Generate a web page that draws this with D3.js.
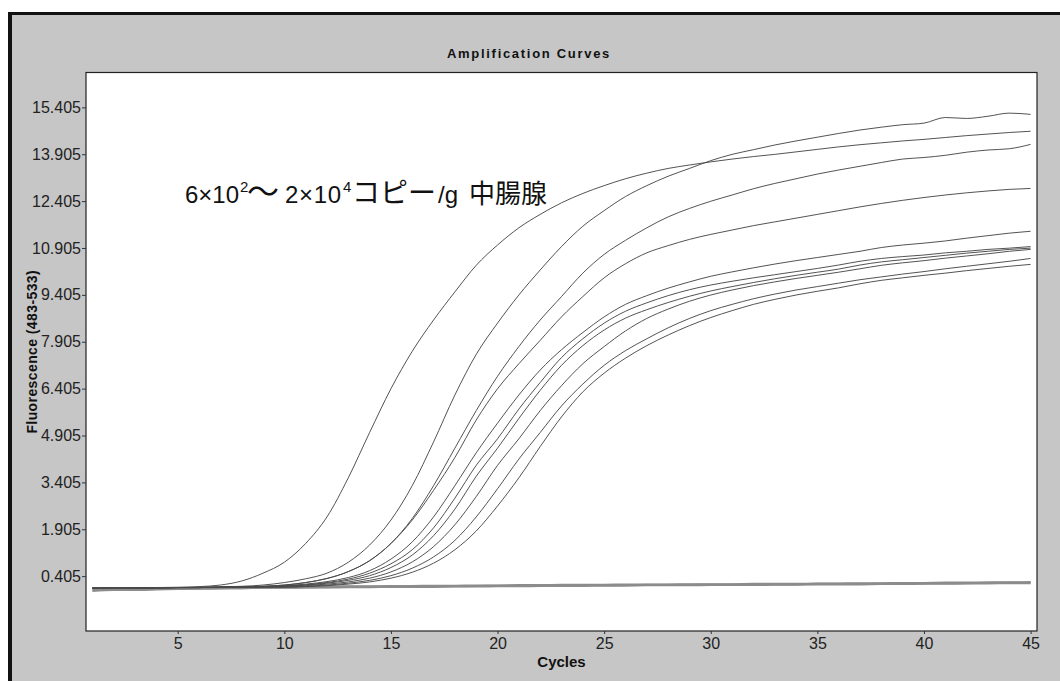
<!DOCTYPE html>
<html>
<head>
<meta charset="utf-8">
<script src="https://cdn.jsdelivr.net/npm/d3@7"></script>
<style>
  html, body { margin: 0; padding: 0; background: #fff; }
  svg { display: block; }
</style>
</head>
<body>
<svg id="chart" width="1060" height="681"></svg>
<script>
// ---------- DATA ----------
const cycles = d3.range(1, 46);
const xTicks = [5, 10, 15, 20, 25, 30, 35, 40, 45];
const yTicks = [0.405, 1.905, 3.405, 4.905, 6.405, 7.905, 9.405, 10.905, 12.405, 13.905, 15.405];
const titleText = "Amplification Curves";
const xLabel = "Cycles";
const yLabel = "Fluorescence (483-533)";

const curveA = [0.02,0.02,0.03,0.04,0.05,0.07,0.12,0.25,0.5,0.85,1.45,2.3,3.55,5.0,6.4,7.6,8.6,9.5,10.35,11.0,11.55,11.98,12.35,12.65,12.9,13.12,13.3,13.45,13.56,13.66,13.75,13.83,13.9,13.98,14.06,14.14,14.21,14.27,14.33,14.38,14.44,14.5,14.55,14.6,14.64];
const curveB = [0.02,0.02,0.03,0.03,0.04,0.05,0.06,0.08,0.12,0.2,0.32,0.5,0.85,1.4,2.2,3.3,4.7,6.2,7.5,8.5,9.4,10.2,10.95,11.6,12.1,12.55,12.9,13.2,13.45,13.7,13.9,14.05,14.2,14.33,14.45,14.57,14.68,14.77,14.85,14.9,15.08,15.05,15.12,15.22,15.18];
const curveC = [0.02,0.02,0.03,0.03,0.04,0.04,0.05,0.06,0.08,0.12,0.2,0.33,0.55,0.9,1.45,2.25,3.3,4.5,5.7,6.8,7.75,8.6,9.35,10.1,10.7,11.15,11.55,11.9,12.17,12.4,12.6,12.8,12.97,13.12,13.27,13.4,13.52,13.64,13.75,13.8,13.87,13.97,14.04,14.08,14.22];
const curveD = [0.02,0.02,0.03,0.03,0.04,0.04,0.05,0.06,0.08,0.12,0.2,0.33,0.55,0.9,1.45,2.2,3.15,4.2,5.4,6.4,7.2,7.95,8.7,9.35,9.95,10.4,10.75,10.98,11.18,11.34,11.48,11.62,11.74,11.86,11.98,12.1,12.22,12.33,12.43,12.52,12.6,12.67,12.73,12.78,12.81];
const curveE = [0.02,0.02,0.03,0.03,0.04,0.04,0.05,0.06,0.07,0.1,0.15,0.23,0.36,0.58,0.95,1.5,2.3,3.3,4.35,5.3,6.2,7.0,7.65,8.2,8.7,9.1,9.38,9.62,9.82,10.0,10.14,10.27,10.39,10.5,10.6,10.7,10.8,10.92,11.0,11.06,11.13,11.22,11.3,11.38,11.44];
const curveF = [0.02,0.02,0.03,0.03,0.04,0.04,0.05,0.06,0.07,0.09,0.13,0.2,0.31,0.5,0.8,1.25,1.95,2.9,3.95,4.8,5.75,6.6,7.4,8.0,8.5,8.88,9.15,9.38,9.57,9.72,9.84,9.95,10.05,10.15,10.25,10.36,10.48,10.57,10.63,10.68,10.75,10.8,10.86,10.9,10.95];
const curveG = [0.02,0.02,0.03,0.03,0.04,0.04,0.05,0.06,0.07,0.08,0.12,0.18,0.27,0.42,0.68,1.08,1.7,2.55,3.6,4.5,5.45,6.35,7.15,7.78,8.28,8.66,8.93,9.16,9.36,9.53,9.67,9.8,9.92,10.03,10.13,10.23,10.36,10.46,10.53,10.6,10.67,10.74,10.8,10.86,10.9];
const curveH = [0.02,0.02,0.03,0.03,0.04,0.04,0.05,0.05,0.06,0.07,0.1,0.15,0.22,0.34,0.54,0.86,1.35,2.05,2.95,3.95,4.8,5.7,6.5,7.2,7.75,8.25,8.65,8.95,9.2,9.4,9.56,9.7,9.82,9.93,10.03,10.13,10.24,10.35,10.43,10.5,10.58,10.65,10.72,10.8,10.86];
const curveI = [0.02,0.02,0.03,0.03,0.04,0.04,0.05,0.05,0.06,0.06,0.08,0.12,0.18,0.27,0.42,0.66,1.02,1.55,2.3,3.2,4.15,5.0,5.85,6.55,7.15,7.62,8.0,8.35,8.65,8.9,9.1,9.28,9.43,9.56,9.67,9.78,9.89,9.98,10.07,10.15,10.24,10.32,10.4,10.48,10.57];
const curveJ = [0.02,0.02,0.03,0.03,0.04,0.04,0.04,0.05,0.05,0.05,0.07,0.1,0.15,0.22,0.34,0.53,0.82,1.25,1.85,2.65,3.55,4.55,5.5,6.3,6.9,7.38,7.78,8.12,8.42,8.68,8.9,9.1,9.26,9.4,9.52,9.63,9.76,9.87,9.95,10.03,10.1,10.18,10.25,10.32,10.38];
const negative1 = [-0.06,-0.03,-0.03,-0.01,0.0,0.01,0.02,0.03,0.04,0.05,0.05,0.06,0.07,0.07,0.08,0.08,0.09,0.09,0.1,0.1,0.11,0.11,0.12,0.12,0.12,0.13,0.13,0.13,0.14,0.14,0.14,0.15,0.15,0.15,0.16,0.16,0.17,0.17,0.18,0.18,0.19,0.19,0.2,0.2,0.21];
const negative2 = [-0.02,-0.01,-0.02,0.0,0.01,0.02,0.03,0.03,0.04,0.04,0.05,0.05,0.06,0.06,0.07,0.07,0.07,0.08,0.08,0.09,0.09,0.1,0.1,0.1,0.11,0.11,0.12,0.12,0.12,0.13,0.13,0.13,0.14,0.14,0.15,0.15,0.15,0.16,0.16,0.17,0.17,0.18,0.18,0.19,0.19];

const positives = [curveA, curveB, curveC, curveD, curveE, curveF, curveG, curveH, curveI, curveJ];
const negatives = [negative1, negative2];

// ---------- LAYOUT ----------
const svg = d3.select("#chart");
const W = 1060, H = 681;
const plot = { left: 86, top: 72.5, right: 1037, bottom: 631 };

svg.append("rect").attr("x", 0).attr("y", 0).attr("width", W).attr("height", H).attr("fill", "#ffffff");
svg.append("rect").attr("x", 10).attr("y", 13.5).attr("width", W - 10).attr("height", H - 13.5)
  .attr("fill", "#c6c6c6");
svg.append("line").attr("x1", 10).attr("x2", 10).attr("y1", 12).attr("y2", H)
  .attr("stroke", "#111").attr("stroke-width", 4);
svg.append("line").attr("x1", 8).attr("x2", W).attr("y1", 13.5).attr("y2", 13.5)
  .attr("stroke", "#111").attr("stroke-width", 3);

svg.append("rect").attr("x", plot.left).attr("y", plot.top)
  .attr("width", plot.right - plot.left).attr("height", plot.bottom - plot.top)
  .attr("fill", "#ffffff").attr("stroke", "#222").attr("stroke-width", 1.2);

const x = d3.scaleLinear().domain([0.7, 45.3]).range([plot.left, plot.right]);
const y = d3.scaleLinear().domain([-1.35, 16.52]).range([plot.bottom, plot.top]);

const tickFont = "'Liberation Sans Narrow', 'Arial Narrow', 'Liberation Sans', sans-serif";

const yAxis = svg.append("g").attr("transform", `translate(${plot.left},0)`)
  .call(d3.axisLeft(y).tickValues(yTicks).tickSize(4).tickPadding(1).tickFormat(d3.format(".3f")));
yAxis.select(".domain").remove();
yAxis.selectAll("text").attr("font-family", tickFont).attr("font-size", 16).attr("fill", "#222");
yAxis.selectAll("line").attr("stroke", "#333");

const xAxis = svg.append("g").attr("transform", `translate(0,${plot.bottom})`)
  .call(d3.axisBottom(x).tickValues(xTicks).tickSize(3).tickPadding(4).tickFormat(d3.format("d")));
xAxis.select(".domain").remove();
xAxis.selectAll("text").attr("font-family", tickFont).attr("font-size", 16).attr("fill", "#222");
xAxis.selectAll("line").attr("stroke", "#333");

svg.append("text").attr("x", 529).attr("y", 58).attr("text-anchor", "middle")
  .attr("font-family", "'Liberation Sans', Arial, sans-serif").attr("font-weight", "bold")
  .attr("font-size", 13).attr("letter-spacing", 1.7).attr("fill", "#111").text(titleText);

svg.append("text").attr("x", (plot.left + plot.right) / 2).attr("y", 667).attr("text-anchor", "middle")
  .attr("font-family", tickFont).attr("font-weight", "bold")
  .attr("font-size", 15).attr("fill", "#111").text(xLabel);

svg.append("text").attr("transform", `translate(37,${(plot.top + plot.bottom) / 2}) rotate(-90)`)
  .attr("text-anchor", "middle")
  .attr("font-family", "'Liberation Sans', Arial, sans-serif").attr("font-weight", "bold")
  .attr("font-size", 14).attr("letter-spacing", 0.4).attr("fill", "#111").text(yLabel);

// ---------- CURVES ----------
svg.append("clipPath").attr("id", "plotclip").append("rect")
  .attr("x", plot.left).attr("y", plot.top).attr("width", plot.right - plot.left).attr("height", plot.bottom - plot.top);

const line = d3.line().x((d, i) => x(cycles[i])).y(d => y(d)).curve(d3.curveMonotoneX);
const g = svg.append("g").attr("clip-path", "url(#plotclip)");

g.selectAll("path.neg").data(negatives).join("path").attr("class", "neg")
  .attr("d", line).attr("fill", "none").attr("stroke", "#8c8c8c").attr("stroke-width", 2.6);

g.selectAll("path.pos").data(positives).join("path").attr("class", "pos")
  .attr("d", line).attr("fill", "none").attr("stroke", "#4a4a4a").attr("stroke-width", 0.95);

// annotation
const latin = "'Liberation Sans', Arial, sans-serif";
const cjk = "'Noto Sans CJK JP', sans-serif";
const ann = svg.append("text").attr("y", 203)
  .attr("font-family", latin).attr("font-size", 24).attr("fill", "#111");
ann.append("tspan").attr("x", 185).text("6×10");
ann.append("tspan").attr("x", 240).attr("font-size", 15).attr("dy", -11).text("2");
ann.append("tspan").attr("x", 247).attr("dy", 11).attr("font-family", cjk).attr("font-size", 32).text("～");
ann.append("tspan").attr("x", 285).attr("textLength", 56).text("2×10");
ann.append("tspan").attr("x", 343).attr("font-size", 15).attr("dy", -11).text("4");
ann.append("tspan").attr("x", 352).attr("dy", 11).attr("font-family", cjk).attr("font-size", 28).text("コピー");
ann.append("tspan").attr("x", 438).text("/g");
ann.append("tspan").attr("x", 469).attr("font-family", cjk).attr("font-size", 26).text("中腸腺");
</script>
</body>
</html>
